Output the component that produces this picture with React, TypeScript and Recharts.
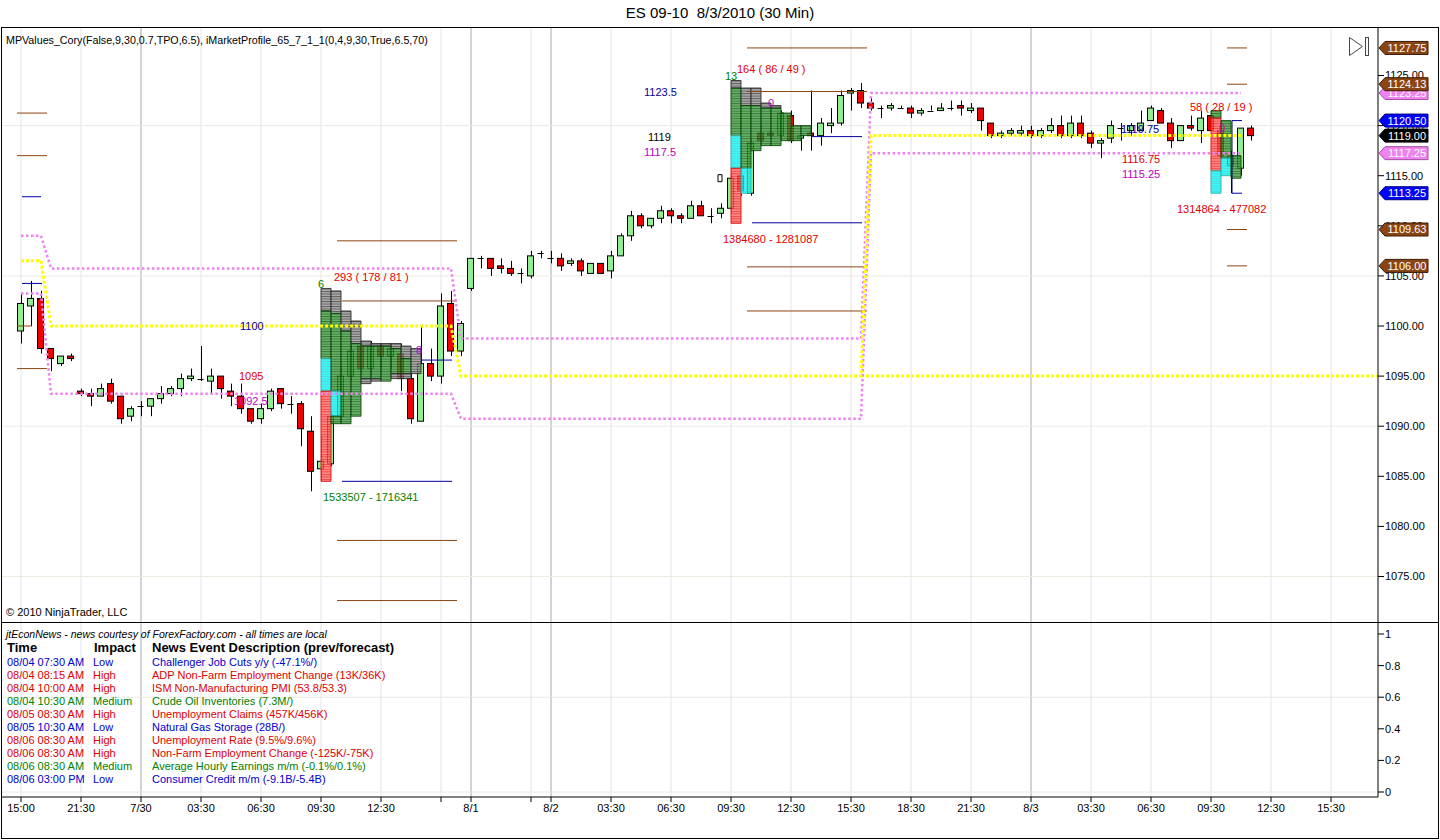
import React from 'react';
import { ComposedChart, Bar, Line, Scatter, XAxis, YAxis, ReferenceLine, ReferenceArea } from 'recharts';

const FONT = '"Liberation Sans", Arial, Helvetica, sans-serif';

// 30-min bars, [open, high, low, close]; array position = bar index
const ohlc: number[][] = [
  [1099.5, 1103.25, 1098.25, 1102.25], [1102, 1104.5, 1100, 1102.75], [1102.75, 1103.5, 1097.25, 1097.75],
  [1097.75, 1097.75, 1095.5, 1096.75], [1096.25, 1097, 1096, 1097], [1097, 1097.25, 1096.5, 1096.75],
  [1093.5, 1093.75, 1093, 1093.25], [1093.25, 1093.75, 1092, 1093], [1093, 1094.25, 1093, 1093.75],
  [1094.25, 1094.75, 1092.25, 1092.5], [1093, 1093, 1090.25, 1090.75], [1091, 1092, 1090.5, 1091.75],
  [1092, 1092.5, 1091, 1092], [1092, 1092.75, 1091, 1092.75], [1092.75, 1094, 1092.25, 1093.25],
  [1093.25, 1094, 1093, 1093.75], [1093.75, 1095.25, 1093, 1094.75], [1094.75, 1095.75, 1094.5, 1095],
  [1094.75, 1098, 1094.5, 1094.75], [1094.5, 1095.75, 1093.25, 1095], [1095, 1095, 1092.75, 1093.75],
  [1093.5, 1094.25, 1092, 1093], [1093, 1094.25, 1091.25, 1091.75], [1091.75, 1091.75, 1090.25, 1090.5],
  [1090.75, 1092.25, 1090.25, 1091.75], [1091.75, 1093.75, 1091.5, 1093.5], [1093.75, 1093.75, 1091.75, 1092.25],
  [1092.25, 1093, 1091.25, 1092.25], [1092.25, 1092.5, 1088, 1089.75], [1089.5, 1091, 1083.5, 1085.5],
  [1085.75, 1089, 1084.5, 1086.5], [1086.25, 1091.5, 1086, 1091], [1091, 1096, 1090.5, 1095],
  [1095, 1098.5, 1094.5, 1097.5], [1098, 1098.5, 1095.25, 1095.75], [1095.75, 1098.5, 1095, 1098],
  [1098, 1098.25, 1095.5, 1097], [1097, 1098.25, 1095.75, 1097.75], [1097.25, 1098.25, 1093.5, 1094.75],
  [1094.75, 1095.5, 1090.25, 1090.75], [1090.5, 1100, 1090.5, 1096.25], [1096.25, 1097.75, 1094.5, 1095],
  [1095, 1103.25, 1094.25, 1102], [1102.25, 1103.5, 1097, 1097.5], [1097.5, 1100.5, 1097, 1100.25],
  [1103.75, 1106.75, 1103.5, 1106.75], [1106.75, 1107, 1105.75, 1106.75], [1106.75, 1106.75, 1105, 1105.75],
  [1106, 1106.75, 1105.25, 1105.75], [1105.75, 1106.5, 1105, 1105.25], [1105.25, 1105.75, 1104.25, 1105.25],
  [1105, 1107.5, 1104.75, 1107], [1107.25, 1107.5, 1106.75, 1107.25], [1106.75, 1107.5, 1106.25, 1106.75],
  [1106.75, 1107.25, 1105.5, 1106], [1106.25, 1106.75, 1106, 1106.5], [1106.5, 1106.75, 1105, 1105.5],
  [1105.25, 1106.25, 1105.25, 1106.25], [1106.25, 1106.25, 1105.25, 1105.25], [1105.5, 1107.5, 1104.75, 1107],
  [1107, 1109.25, 1107, 1109], [1109, 1111.5, 1108.5, 1111], [1111, 1111.25, 1109.75, 1110],
  [1110, 1110.75, 1109.75, 1110.75], [1110.75, 1112, 1110.25, 1111.5], [1111.5, 1111.75, 1110.25, 1111],
  [1111, 1111.25, 1110.25, 1110.75], [1110.75, 1112.5, 1110.75, 1112], [1112, 1112.5, 1111, 1111],
  [1111, 1111.75, 1110.25, 1111], [1111.25, 1112.25, 1110.75, 1111.75], [1111.75, 1115.25, 1111.5, 1114.75],
  [1115, 1116, 1113, 1113.5], [1113.25, 1118.5, 1113, 1118.25], [1119.25, 1120, 1118.25, 1118.5],
  [1119.25, 1119.5, 1118.75, 1119], [1119, 1121.5, 1118.5, 1121.25], [1121, 1121.5, 1118.25, 1118.5],
  [1118.75, 1119, 1117.5, 1119], [1119.25, 1123.5, 1117.5, 1119], [1119, 1120.75, 1118, 1120.25],
  [1120, 1121.75, 1119.25, 1120.25], [1120.25, 1123.5, 1120, 1123], [1123.25, 1123.75, 1121.5, 1123.5],
  [1123.5, 1124.25, 1121.75, 1122.25], [1122.25, 1122.75, 1121.5, 1121.75], [1121.75, 1122, 1120.75, 1121.75],
  [1121.75, 1122.25, 1121.5, 1122], [1121.75, 1122, 1121.75, 1121.75], [1121.75, 1122, 1120.75, 1121.25],
  [1121.25, 1121.75, 1121, 1121.5], [1121.5, 1122, 1121.5, 1121.5], [1121.5, 1122.25, 1121.5, 1121.75],
  [1121.75, 1122.5, 1121.5, 1121.75], [1122, 1122.5, 1121, 1121.75], [1121.5, 1122.25, 1121.25, 1121.75],
  [1121.75, 1121.75, 1119.5, 1120.5], [1120.25, 1120.25, 1118.75, 1119], [1119, 1119.5, 1118.75, 1119.25],
  [1119.25, 1119.75, 1119, 1119.5], [1119.25, 1120, 1119, 1119.5], [1119.5, 1120, 1118.75, 1119],
  [1119, 1119.75, 1118.75, 1119.5], [1119.5, 1120.75, 1119.25, 1120], [1120, 1121, 1118.75, 1119],
  [1119, 1121, 1118.75, 1120.25], [1120.25, 1121, 1118.75, 1119], [1119.25, 1119.5, 1117.75, 1118.25],
  [1118.25, 1118.75, 1116.75, 1118.5], [1118.75, 1120.5, 1118.25, 1120], [1119.75, 1120.25, 1118.5, 1119.75],
  [1119.5, 1120.25, 1119, 1120], [1119.5, 1121.5, 1119.5, 1120.25], [1120.5, 1122, 1120.5, 1121.75],
  [1121.5, 1121.75, 1120.25, 1120.25], [1120.25, 1120.75, 1117.75, 1118.5], [1118.5, 1120, 1118.5, 1120],
  [1120, 1121, 1119.5, 1119.75], [1119.5, 1121.5, 1118.25, 1120.75], [1121, 1121.5, 1119.5, 1119.5],
  [1119.5, 1120.5, 1116.5, 1117], [1116, 1117.5, 1113.25, 1117], [1115.75, 1119.75, 1115, 1119.75],
  [1119.75, 1120, 1118.5, 1119],
];

// market-profile session values (first bar, last bar, value)
const sessionStart = [0, 3, 44, 85];
const sessionEnd = [2, 43, 84, 122];
const vahBySession = [1109, 1105.75, 1098.75, 1123.25];
const pocBySession = [1106.5, 1100, 1095, 1119];
const valBySession = [1103.25, 1093.25, 1090.75, 1117.25];
const nakedPocFrom = 84;
const nakedPocPrice = 1095;

// axis ticks
const tickBars = [0, 6, 12, 18, 24, 30, 36, 42, 45, 51, 53, 59, 65, 71, 77, 83, 89, 95, 101, 107, 113, 119, 125, 131];
const tickLabels = ['15:00', '21:30', '7/30', '03:30', '06:30', '09:30', '12:30', '', '8/1', '', '8/2', '03:30', '06:30',
  '09:30', '12:30', '15:30', '18:30', '21:30', '8/3', '03:30', '06:30', '09:30', '12:30', '15:30'];
const daySeparators = [12, 45, 53, 101];
const priceTicks = [1075, 1080, 1085, 1090, 1095, 1100, 1105, 1110, 1115, 1120, 1125];
const priceGrid = [1075, 1090, 1105, 1120];
const lowerTicks = [0, 0.2, 0.4, 0.6, 0.8, 1];
const lowerGrid = [0, 0.6];

// TPO profiles: [column, low, high, kind]  kind: k=gray g=green c=cyan r=red
const profileStarts = [30, 71, 119];
const profile730: [number, number, number, string][] = [
  [0, 1101.5, 1103.75, 'k'], [0, 1096.75, 1101.5, 'g'], [0, 1093.5, 1096.75, 'c'], [0, 1084.5, 1093.5, 'r'],
  [1, 1101.25, 1103.5, 'k'], [1, 1093.5, 1101.25, 'g'], [1, 1091, 1093.5, 'c'], [1, 1090.25, 1091, 'g'],
  [2, 1099.5, 1101.5, 'k'], [2, 1090.25, 1099.5, 'g'],
  [3, 1098.25, 1100.5, 'k'], [3, 1091, 1098.25, 'g'],
  [4, 1098, 1098.5, 'k'], [4, 1094.75, 1098, 'g'], [4, 1094.25, 1094.75, 'k'],
  [5, 1098, 1098.25, 'k'], [5, 1094.75, 1098, 'g'], [5, 1094.5, 1094.75, 'k'],
  [6, 1098, 1098.25, 'k'], [6, 1094.5, 1098, 'g'],
  [7, 1097.75, 1098.25, 'k'], [7, 1095.25, 1097.75, 'g'], [7, 1094.75, 1095.25, 'k'],
  [8, 1096.75, 1098, 'k'], [8, 1095.25, 1096.75, 'g'], [8, 1094.75, 1095.25, 'k'],
  [9, 1095.25, 1097.75, 'k'],
];
const profile802: [number, number, number, string][] = [
  [0, 1123.75, 1124.5, 'k'], [0, 1119, 1123.75, 'g'], [0, 1115.75, 1119, 'c'], [0, 1110.25, 1115.75, 'r'],
  [1, 1122, 1123.75, 'k'], [1, 1115.75, 1122, 'g'], [1, 1113.25, 1115.75, 'c'],
  [2, 1122, 1123.75, 'k'], [2, 1117.5, 1122, 'g'],
  [3, 1121.75, 1122.25, 'k'], [3, 1118, 1121.75, 'g'],
  [4, 1121.75, 1122, 'k'], [4, 1118, 1121.75, 'g'],
  [5, 1118.5, 1121.25, 'g'],
  [6, 1118.5, 1120, 'g'],
  [7, 1119, 1120, 'g'],
];
const profile803: [number, number, number, string][] = [
  [0, 1120.75, 1121.5, 'g'], [0, 1115.5, 1120.75, 'r'], [0, 1113.25, 1115.5, 'c'],
  [1, 1116.75, 1120.5, 'g'], [1, 1115, 1116.75, 'c'],
  [2, 1114.75, 1117, 'g'],
];

// horizontal level segments: [fromBar, toBar, price, colour]
const BROWN = '#8B4513';
const NAVY = '#0000A0';
const levels: [number, number, number, string][] = [
  [-0.4, 2.6, 1121.25, BROWN], [-0.4, 2.6, 1117, BROWN], [-0.4, 1.1, 1100, BROWN], [-0.4, 2.6, 1095.75, BROWN],
  [0.1, 2, 1112.9, NAVY], [0.1, 2.1, 1104.25, NAVY],
  [31.6, 43.6, 1108.5, BROWN], [32.1, 43.6, 1102.5, BROWN], [31.6, 43.6, 1078.6, BROWN], [31.6, 43.6, 1072.6, BROWN],
  [32.1, 43.1, 1084.5, NAVY], [40.1, 43.1, 1096.6, NAVY],
  [72.6, 84.6, 1127.75, BROWN], [72.6, 84.6, 1123.4, BROWN], [72.6, 84.6, 1105.9, BROWN], [72.6, 84.6, 1101.5, BROWN],
  [79.1, 84.1, 1118.9, NAVY], [73.1, 84.1, 1110.3, NAVY],
  [120.6, 122.6, 1127.75, BROWN], [120.6, 122.6, 1124.13, BROWN], [120.6, 122.6, 1109.63, BROWN], [120.6, 122.6, 1106, BROWN],
  [121.1, 122.1, 1120.5, NAVY], [121.1, 122.1, 1113.25, NAVY],
];
const verticalLevels: [number, number, number, string][] = [[121.1, 1113.25, 1120.5, '#000050']];
const hollowMarkers: [number, number, number, number][] = [[69.7, 70.1, 1114.4, 1115.1]];

// on-chart text: [bar, price, text, colour]
const notes: [number, number, string, string][] = [
  [21.9, 1100, '1100', '#0000A0'], [21.8, 1095, '1095', '#E00000'], [21.3, 1092.5, '1092.5', '#C000C0'],
  [29.7, 1104.2, '6', '#008000'], [31.3, 1104.9, '293 ( 178 / 81 )', '#E00000'],
  [30.2, 1082.9, '1533507 - 1716341', '#008000'], [39.5, 1097.6, '8', '#C000C0'],
  [62.3, 1123.35, '1123.5', '#0000A0'], [62.7, 1118.85, '1119', '#000000'], [62.3, 1117.35, '1117.5', '#C000C0'],
  [70.4, 1124.95, '13', '#008000'], [71.6, 1125.65, '164 ( 86 / 49 )', '#E00000'],
  [70.2, 1108.7, '1384680 - 1281087', '#E00000'], [74.7, 1122.25, '0', '#C000C0'],
  [110, 1119.65, '1119.75', '#0000A0'], [110.1, 1116.65, '1116.75', '#E00000'], [110.1, 1115.15, '1115.25', '#C000C0'],
  [116.9, 1121.85, '58 ( 28 / 19 )', '#E00000'], [115.6, 1111.7, '1314864 - 477082', '#E00000'],
  [119.8, 1119.75, '0', '#C000C0'],
];

// price flags on the right axis
const tagPrices = [1127.75, 1123.25, 1124.13, 1120.5, 1119, 1117.25, 1113.25, 1109.63, 1106];
const tagKinds = ['brown', 'violet', 'brown', 'blue', 'black', 'violet', 'blue', 'brown', 'brown'];

// news
const newsTimes = ['08/04 07:30 AM', '08/04 08:15 AM', '08/04 10:00 AM', '08/04 10:30 AM', '08/05 08:30 AM',
  '08/05 10:30 AM', '08/06 08:30 AM', '08/06 08:30 AM', '08/06 08:30 AM', '08/06 03:00 PM'];
const newsImpact = ['Low', 'High', 'High', 'Medium', 'High', 'Low', 'High', 'High', 'Medium', 'Low'];
const newsEvents = ['Challenger Job Cuts y/y (-47.1%/)', 'ADP Non-Farm Employment Change (13K/36K)',
  'ISM Non-Manufacturing PMI (53.8/53.3)', 'Crude Oil Inventories (7.3M/)', 'Unemployment Claims (457K/456K)',
  'Natural Gas Storage (28B/)', 'Unemployment Rate (9.5%/9.6%)', 'Non-Farm Employment Change (-125K/-75K)',
  'Average Hourly Earnings m/m (-0.1%/0.1%)', 'Consumer Credit m/m (-9.1B/-5.4B)'];

// ---------- styles / layout ----------
const X_DOMAIN: [number, number] = [-1.9, 135.7];
const Y_DOMAIN: [number, number] = [1070.46, 1129.74];
const LOWER_DOMAIN: [number, number] = [-0.0316, 1.0759];
const MAIN_H = 594;
const ROW_PX = (0.25 * MAIN_H) / (Y_DOMAIN[1] - Y_DOMAIN[0]);

const impactColor: Record<string, string> = { Low: '#0000CC', High: '#E00000', Medium: '#008000' };
const tpoStyle: Record<string, { fill: string; line: string; stroke: string }> = {
  g: { fill: '#45A845', line: '#145814', stroke: '#0E4A0E' },
  k: { fill: '#9A9A9A', line: '#404040', stroke: '#303030' },
  c: { fill: '#00FFFF', line: '#38C8C8', stroke: '#30B0B0' },
  r: { fill: '#FF7070', line: '#F01818', stroke: '#E01010' },
};
const tagStyle: Record<string, { fill: string; stroke: string; text: string }> = {
  brown: { fill: '#8B4513', stroke: '#3A1A05', text: '#FFFFFF' },
  violet: { fill: '#EE82EE', stroke: '#A050A0', text: '#FFFFFF' },
  blue: { fill: '#0000FF', stroke: '#000080', text: '#FFFFFF' },
  black: { fill: '#000000', stroke: '#000000', text: '#FFFFFF' },
};

const sessionOf = (i: number) => sessionStart.findIndex((s, k) => i >= s && i <= sessionEnd[k]);
const rows = ohlc.map(([o, h, l, c], i) => {
  const s = sessionOf(i);
  return {
    i, o, h, l, c,
    vah: s >= 0 ? vahBySession[s] : undefined,
    poc: s >= 0 ? pocBySession[s] : undefined,
    val: s >= 0 ? valBySession[s] : undefined,
  };
});
const profileCells = [profile730, profile802, profile803].flatMap((prof, n) =>
  prof.map(([col, lo, hi, kind]) => ({ x1: profileStarts[n] + col, x2: profileStarts[n] + col + 1, lo, hi, kind })));
const noteRows = notes.map(([i, p, text, color]) => ({ i, p, text, color }));
const tagRows = tagPrices.map((p, k) => ({ i: X_DOMAIN[1], p, kind: tagKinds[k] }));

const CandleShape = (props: any) => {
  const { x, y, width, height, payload } = props;
  if (!payload || x == null || y == null || isNaN(y)) return <g />;
  const top = Math.min(y, y + height);
  const hpx = Math.abs(height);
  const { o, h, l, c } = payload;
  const k = h > l ? hpx / (h - l) : 0;
  const py = (v: number) => top + (h - v) * k;
  const cx = Math.round(x + width / 2) + 0.5;
  const bTop = py(Math.max(o, c));
  const bBot = py(Math.min(o, c));
  const bx = Math.round(x) + 0.5;
  const bw = Math.round(width) - 1;
  return (
    <g>
      <line x1={cx} x2={cx} y1={top} y2={top + hpx} stroke="#000" strokeWidth={1} />
      {c === o ? (
        <line x1={bx} x2={bx + bw} y1={Math.round(bTop) + 0.5} y2={Math.round(bTop) + 0.5} stroke="#000" strokeWidth={1} />
      ) : (
        <rect x={bx} y={bTop} width={bw} height={Math.max(bBot - bTop, 1)} fill={c > o ? '#90EE90' : '#EE0000'} stroke="#000" strokeWidth={1} />
      )}
    </g>
  );
};

const NoteShape = (props: any) => {
  const { cx, cy, payload } = props;
  if (cx == null) return <g />;
  return (
    <text x={cx} y={cy} dy="0.36em" fontSize={11} fill={payload.color} fontFamily={FONT}>{payload.text}</text>
  );
};

const TagShape = (props: any) => {
  const { cx, cy, payload } = props;
  if (cx == null) return <g />;
  const st = tagStyle[payload.kind];
  const x0 = cx + 1;
  const d = `M${x0},${cy} L${x0 + 6},${cy - 6.5} L${x0 + 49},${cy - 6.5} L${x0 + 49},${cy + 6.5} L${x0 + 6},${cy + 6.5} Z`;
  return (
    <g>
      <path d={d} fill={st.fill} stroke={st.stroke} strokeWidth={1} />
      <text x={x0 + 28} y={cy} dy="0.36em" textAnchor="middle" fontSize={11} fill={st.text} fontFamily={FONT}>
        {payload.p.toFixed(2)}
      </text>
    </g>
  );
};

const Txt = ({ x, cy, size = 11, h = 16, style, children }: any) => (
  <div style={{ position: 'absolute', left: x, top: cy - h / 2, height: h, lineHeight: `${h}px`, fontSize: size, whiteSpace: 'pre', ...style }}>
    {children}
  </div>
);

const gridColor = (b: number) => (daySeparators.includes(b) ? '#A8A8A8' : '#E4E4E4');

export default function App() {
  const axisTick = { fill: '#000', fontSize: 11, fontFamily: FONT };
  return (
    <div style={{ position: 'relative', width: 1440, height: 840, background: '#fff', fontFamily: FONT, color: '#000', overflow: 'hidden' }}>
      <style>{'body{margin:0;background:#fff;}'}</style>

      <Txt x={0} cy={13} size={15} h={20} style={{ width: 1440, textAlign: 'center' }}>ES 09-10  8/3/2010 (30 Min)</Txt>

      {/* main price panel */}
      <div style={{ position: 'absolute', left: 2, top: 28 }}>
        <ComposedChart width={1436} height={MAIN_H} data={rows} margin={{ top: 0, right: 0, bottom: 0, left: 0 }}>
          <defs>
            {Object.entries(tpoStyle).map(([k, s]) => (
              <pattern key={k} id={`tpo-${k}`} patternUnits="userSpaceOnUse" width={10} height={ROW_PX}>
                <rect x={0} y={0} width={10} height={ROW_PX} fill={s.fill} />
                <rect x={0} y={0} width={10} height={1} fill={s.line} />
              </pattern>
            ))}
          </defs>
          <XAxis xAxisId={0} dataKey="i" type="number" domain={X_DOMAIN} hide allowDataOverflow />
          <XAxis xAxisId="n" dataKey="i" type="number" domain={X_DOMAIN} hide />
          <YAxis
            orientation="right" type="number" domain={Y_DOMAIN} ticks={priceTicks} width={60}
            tickFormatter={(v: number) => v.toFixed(2)} tickSize={6} tickMargin={1} interval={0}
            axisLine={{ stroke: '#000' }} tickLine={{ stroke: '#000' }} tick={axisTick}
          />
          {tickBars.map((b) => (
            <ReferenceLine key={`vg${b}`} x={b} stroke={gridColor(b)} strokeWidth={1} zIndex={-100} />
          ))}
          {priceGrid.map((p) => (
            <ReferenceLine key={`hg${p}`} y={p} stroke="#ECEBE2" strokeWidth={1} zIndex={-100} />
          ))}

          <Bar dataKey={(d: any) => [d.l, d.h]} barSize={7} shape={CandleShape} isAnimationActive={false} />

          {profileCells.map((cell, n) => (
            <ReferenceArea
              key={`tpo${n}`} x1={cell.x1} x2={cell.x2} y1={cell.lo} y2={cell.hi}
              fill={`url(#tpo-${cell.kind})`} fillOpacity={0.82} stroke={tpoStyle[cell.kind].stroke} strokeWidth={1}
              strokeOpacity={0.9} zIndex={350}
            />
          ))}
          {hollowMarkers.map(([x1, x2, y1, y2], n) => (
            <ReferenceArea key={`hm${n}`} x1={x1} x2={x2} y1={y1} y2={y2} fill="#fff" fillOpacity={1} stroke="#000" zIndex={360} />
          ))}

          {levels.map(([x1, x2, p, col], n) => (
            <ReferenceLine key={`lv${n}`} segment={[{ x: x1, y: p }, { x: x2, y: p }]} stroke={col} strokeWidth={1} />
          ))}
          {verticalLevels.map(([x, p1, p2, col], n) => (
            <ReferenceLine key={`vl${n}`} segment={[{ x, y: p1 }, { x, y: p2 }]} stroke={col} strokeWidth={1} />
          ))}
          <ReferenceLine
            segment={[{ x: nakedPocFrom, y: nakedPocPrice }, { x: X_DOMAIN[1], y: nakedPocPrice }]}
            stroke="#FFFF00" strokeWidth={3} strokeDasharray="3 2"
          />

          <Line dataKey="vah" stroke="#EE82EE" strokeWidth={2.5} strokeDasharray="2.5 2.5" dot={false} activeDot={false} isAnimationActive={false} />
          <Line dataKey="val" stroke="#EE82EE" strokeWidth={2.5} strokeDasharray="2.5 2.5" dot={false} activeDot={false} isAnimationActive={false} />
          <Line dataKey="poc" stroke="#FFFF00" strokeWidth={3} strokeDasharray="3 2" dot={false} activeDot={false} isAnimationActive={false} />

          <Scatter xAxisId="n" data={noteRows} dataKey="p" shape={NoteShape} isAnimationActive={false} />
        </ComposedChart>
      </div>

      {/* overlay with the price flags, drawn above the price axis */}
      <div style={{ position: 'absolute', left: 2, top: 28 }}>
        <ComposedChart width={1436} height={MAIN_H} data={rows} margin={{ top: 0, right: 60, bottom: 0, left: 0 }}>
          <XAxis dataKey="i" type="number" domain={X_DOMAIN} hide />
          <YAxis type="number" domain={Y_DOMAIN} hide />
          <Scatter data={tagRows} dataKey="p" shape={TagShape} isAnimationActive={false} />
        </ComposedChart>
      </div>

      {/* lower (news) panel with time axis */}
      <div style={{ position: 'absolute', left: 2, top: 622 }}>
        <ComposedChart width={1436} height={216} data={rows} margin={{ top: 0, right: 0, bottom: 0, left: 0 }}>
          <XAxis
            dataKey="i" type="number" domain={X_DOMAIN} allowDataOverflow ticks={tickBars} interval={0}
            tickFormatter={(v: number) => tickLabels[tickBars.indexOf(v)] ?? ''} height={41} tickSize={5} tickMargin={2}
            axisLine={{ stroke: '#000' }} tickLine={{ stroke: '#000' }} tick={axisTick}
          />
          <YAxis
            orientation="right" type="number" domain={LOWER_DOMAIN} allowDataOverflow ticks={lowerTicks} width={60}
            tickFormatter={(v: number) => String(v)} tickSize={6} tickMargin={1} interval={0}
            axisLine={{ stroke: '#000' }} tickLine={{ stroke: '#000' }} tick={axisTick}
          />
          {tickBars.map((b) => (
            <ReferenceLine key={`lvg${b}`} x={b} stroke={gridColor(b)} strokeWidth={1} />
          ))}
          {lowerGrid.map((v) => (
            <ReferenceLine key={`lhg${v}`} y={v} stroke="#E8E8E0" strokeWidth={1} />
          ))}
        </ComposedChart>
      </div>

      {/* texts */}
      <Txt x={6} cy={40} size={10.7}>MPValues_Cory(False,9,30,0.7,TPO,6.5), iMarketProfile_65_7_1_1(0,4,9,30,True,6.5,70)</Txt>
      <Txt x={6} cy={612} size={11}>© 2010 NinjaTrader, LLC</Txt>

      <Txt x={6} cy={634} size={10.5} style={{ fontStyle: 'italic' }}>jtEconNews - news courtesy of ForexFactory.com - all times are local</Txt>
      <Txt x={7} cy={647.5} size={13} style={{ fontWeight: 'bold' }}>Time</Txt>
      <Txt x={94} cy={647.5} size={13} style={{ fontWeight: 'bold' }}>Impact</Txt>
      <Txt x={152} cy={647.5} size={13} style={{ fontWeight: 'bold' }}>News Event Description (prev/forecast)</Txt>
      {newsTimes.map((t, k) => {
        const cy = 662.3 + k * 12.97;
        const col = impactColor[newsImpact[k]];
        return (
          <React.Fragment key={`n${k}`}>
            <Txt x={7} cy={cy} size={11} style={{ color: col }}>{t}</Txt>
            <Txt x={93} cy={cy} size={11} style={{ color: col }}>{newsImpact[k]}</Txt>
            <Txt x={152} cy={cy} size={11} style={{ color: col }}>{newsEvents[k]}</Txt>
          </React.Fragment>
        );
      })}

      {/* top-right scroll icon */}
      <svg style={{ position: 'absolute', left: 1345, top: 34 }} width={30} height={26}>
        <path d="M4.5,3.5 L17.5,12.5 L4.5,21.5 Z" fill="none" stroke="#444" strokeWidth={1} />
        <rect x={20.5} y={3.5} width={3} height={18} fill="none" stroke="#444" strokeWidth={1} />
      </svg>

      {/* frame */}
      <div style={{ position: 'absolute', left: 1, top: 27, width: 1438, height: 812, border: '1px solid #000', boxSizing: 'border-box', pointerEvents: 'none' }} />
      <div style={{ position: 'absolute', left: 1, top: 622, width: 1438, height: 1, background: '#000' }} />
    </div>
  );
}
